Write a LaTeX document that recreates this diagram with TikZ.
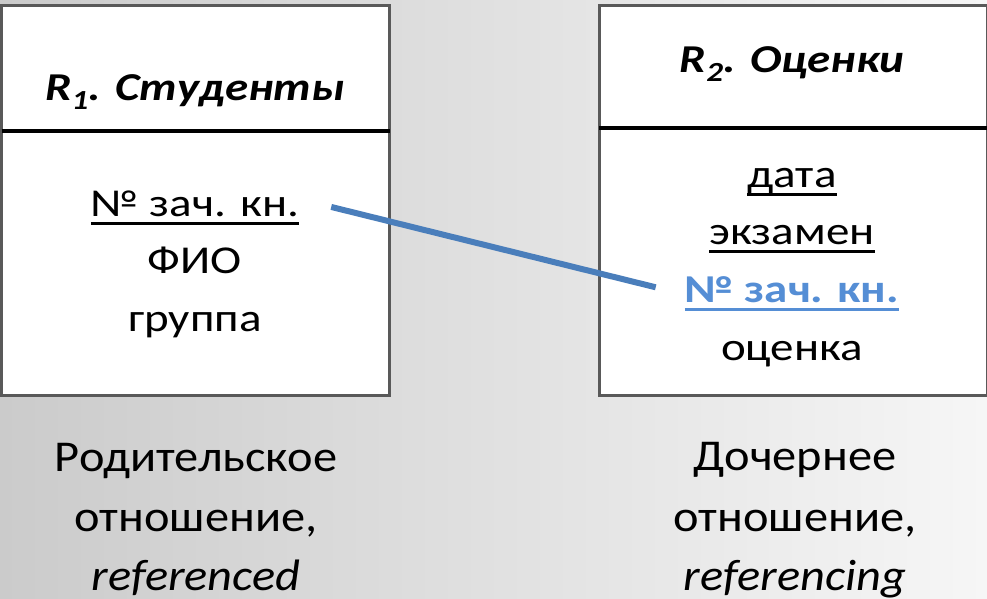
\documentclass[tikz,border=0pt]{standalone}
\usepackage{fontspec}
\setmainfont{Carlito}
\newfontfamily\boxfont{Carlito}[FakeStretch=1.19]
\newfontfamily\capfont{Carlito}[FakeStretch=1.1]
\definecolor{boxgray}{HTML}{595959}
\definecolor{linkblue}{HTML}{4A7EBB}
\definecolor{keyblue}{HTML}{558ED5}
\definecolor{bgleft}{HTML}{CBCBCB}
\definecolor{bgright}{HTML}{F6F6F6}
\newcommand\keyul[1]{\setbox0\hbox{#1}\rlap{\rule[-8.5pt]{\wd0}{3pt}}\box0}
\begin{document}
\begin{tikzpicture}[x=1pt,y=-1pt,
  relbox/.style={draw=boxgray, line width=3pt, fill=white, inner sep=0pt,
    minimum width=388pt, minimum height=390pt},
  sepline/.style={black, line width=4pt},
  title/.style={anchor=base, inner sep=0pt, font=\boxfont\fontsize{39.5}{46}\bfseries\itshape\selectfont},
  attr/.style={anchor=base, inner sep=0pt, font=\boxfont\fontsize{39.5}{46}\selectfont},
  caption/.style={anchor=base, inner sep=0pt, font=\capfont\fontsize{44}{52}\selectfont},
  link/.style={linkblue, line width=6pt}]
\shade[left color=bgleft, right color=bgright] (0,0) rectangle (987,598);
\useasboundingbox (0,0) rectangle (987,598);

% boxes
\node[relbox] (box1) at (195.5,200) {};
\node[relbox] (box2) at (793,200) {};
\draw[sepline] ([xshift=1.5pt]box1.west |- 0,131) -- ([xshift=-1.5pt]box1.east |- 0,131);
\draw[sepline] ([xshift=1.5pt]box2.west |- 0,128) -- ([xshift=-1.5pt]box2.east |- 0,128);

% titles
\node[title] (t1) at (195,100) {R\textsubscript{1}. Студенты};
\node[title] (t2) at (792,72) {R\textsubscript{2}. Оценки};

% attributes of R1
\node[attr] (a1) at (195,216.5) {\keyul{№ зач. кн.}};
\node[attr] (a2) at (195,273) {ФИО};
\node[attr] (a3) at (195,331) {группа};

% attributes of R2
\node[attr] (b1) at (792,187) {\keyul{дата}};
\node[attr] (b2) at (792,244) {\keyul{экзамен}};
\node[attr, text=keyblue, font=\boxfont\fontsize{39.5}{46}\bfseries\selectfont] (b3) at (792,302) {\keyul{№ зач. кн.}};
\node[attr] (b4) at (792,360) {оценка};

% foreign key link
\draw[link] ([xshift=32pt,yshift=1pt]a1.east) -- ([xshift=-29pt,yshift=6pt]b3.west);

% captions
\node[caption] (c1a) at (196,471) {Родительское};
\node[caption] (c1b) at (196,531) {отношение,};
\node[caption] (c1c) at (196,590) {\itshape referenced};
\node[caption] (c2a) at (795,470) {Дочернее};
\node[caption] (c2b) at (795,531) {отношение,};
\node[caption] (c2c) at (795,590) {\itshape referencing};
\end{tikzpicture}
\end{document}
